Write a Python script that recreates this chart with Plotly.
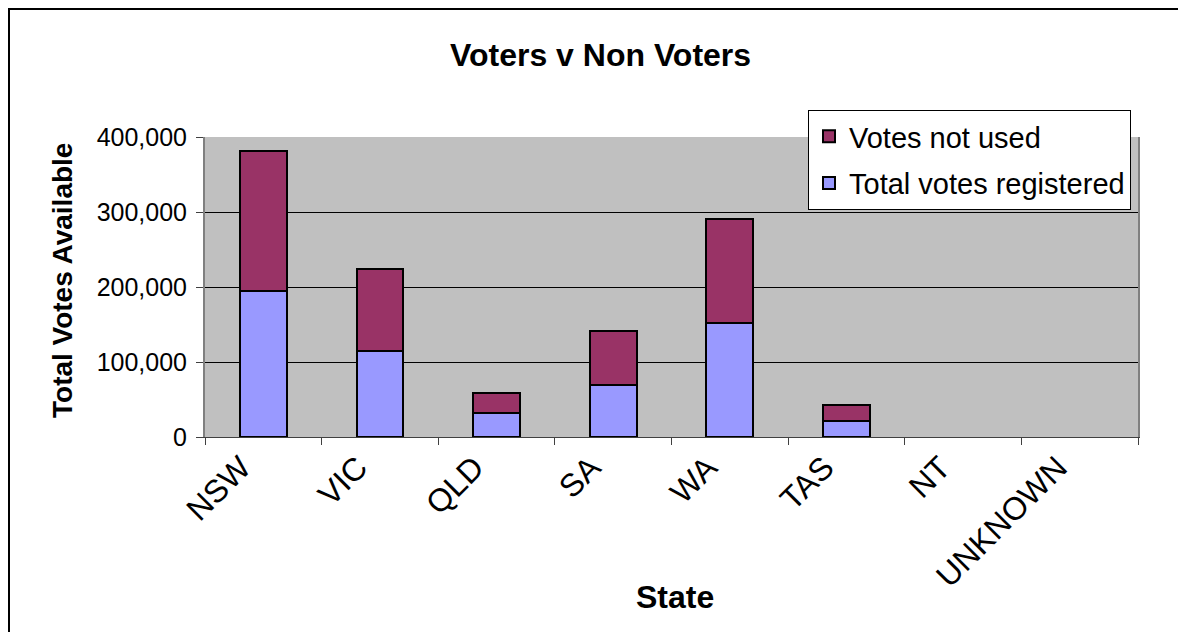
import plotly.graph_objects as go

states = ["NSW", "VIC", "QLD", "SA", "WA", "TAS", "NT", "UNKNOWN"]
registered = [194500, 115000, 32000, 69500, 152000, 21000, 0, 0]
not_used = [187000, 109500, 26500, 72000, 138500, 21500, 0, 0]
y_ticks = [0, 100000, 200000, 300000, 400000]

FONT = "Arial, Liberation Sans, sans-serif"
OFF = 8  # page body margin
W, H = 1186 - OFF, 632 - OFF
L, R, T, B = 205 - OFF, 48, 137 - OFF, 195
PW, PH = W - L - R, H - T - B


def px(xp):
    return (xp - OFF - L) / PW


def py(yp):
    return (H - B - (yp - OFF)) / PH


def edge(vals):
    return [2 if v > 0 else 0 for v in vals]


fig = go.Figure()
fig.add_trace(go.Bar(
    x=states, y=registered, name="Total votes registered",
    marker=dict(color="#9999FF", line=dict(color="black", width=edge(registered))),
    legendgroup="registered", legendrank=2,
))
fig.add_trace(go.Bar(
    x=states, y=not_used, name="Votes not used",
    marker=dict(color="#993366", line=dict(color="black", width=edge(not_used))),
    legendgroup="notused", legendrank=1,
))

fig.update_layout(
    width=W, height=H,
    margin=dict(l=L, r=R, t=T, b=B),
    barmode="stack", bargap=0.6,
    paper_bgcolor="white", plot_bgcolor="#C0C0C0",
    font=dict(family=FONT, color="black"),
    showlegend=True,
    legend=dict(
        x=px(808), y=py(110), xanchor="left", yanchor="top",
        bgcolor="white", bordercolor="black", borderwidth=1,
        font=dict(size=29, family=FONT, color="black"),
        traceorder="grouped", tracegroupgap=6,
    ),
    xaxis=dict(
        type="category", tickson="boundaries", ticks="outside", ticklen=7,
        tickcolor="#404040", tickangle=-45, tickfont=dict(size=32, family=FONT),
        showline=True, linecolor="#404040", linewidth=1, mirror=False,
        showgrid=False, ticklabelstandoff=-2, ticklabelshift=-22,
    ),
    yaxis=dict(
        range=[0, 400000], tickvals=y_ticks, tickformat=",d",
        ticks="outside", ticklen=7, tickcolor="#404040",
        tickfont=dict(size=25, family=FONT),
        showgrid=True, gridcolor="#000000", gridwidth=1,
        showline=True, linecolor="#808080", linewidth=2, mirror=True,
        zeroline=False, ticklabelstandoff=4,
    ),
    annotations=[
        dict(text="<b>Voters v Non Voters</b>", x=px(600), y=py(55),
             xref="paper", yref="paper", showarrow=False,
             xanchor="center", yanchor="middle",
             font=dict(size=32, family=FONT)),
        dict(text="<b>Total Votes Available</b>", x=px(62), y=py(281),
             xref="paper", yref="paper", showarrow=False, textangle=-90,
             xanchor="center", yanchor="middle",
             font=dict(size=28, family=FONT)),
        dict(text="<b>State</b>", x=px(675), y=py(597),
             xref="paper", yref="paper", showarrow=False,
             xanchor="center", yanchor="middle",
             font=dict(size=32, family=FONT)),
    ],
    shapes=[
        dict(type="line", xref="paper", yref="paper",
             x0=px(8), x1=px(1200), y0=py(9), y1=py(9),
             line=dict(color="black", width=2)),
        dict(type="line", xref="paper", yref="paper",
             x0=px(9), x1=px(9), y0=py(9), y1=py(650),
             line=dict(color="black", width=2)),
    ],
)

fig.write_html("out.html")
